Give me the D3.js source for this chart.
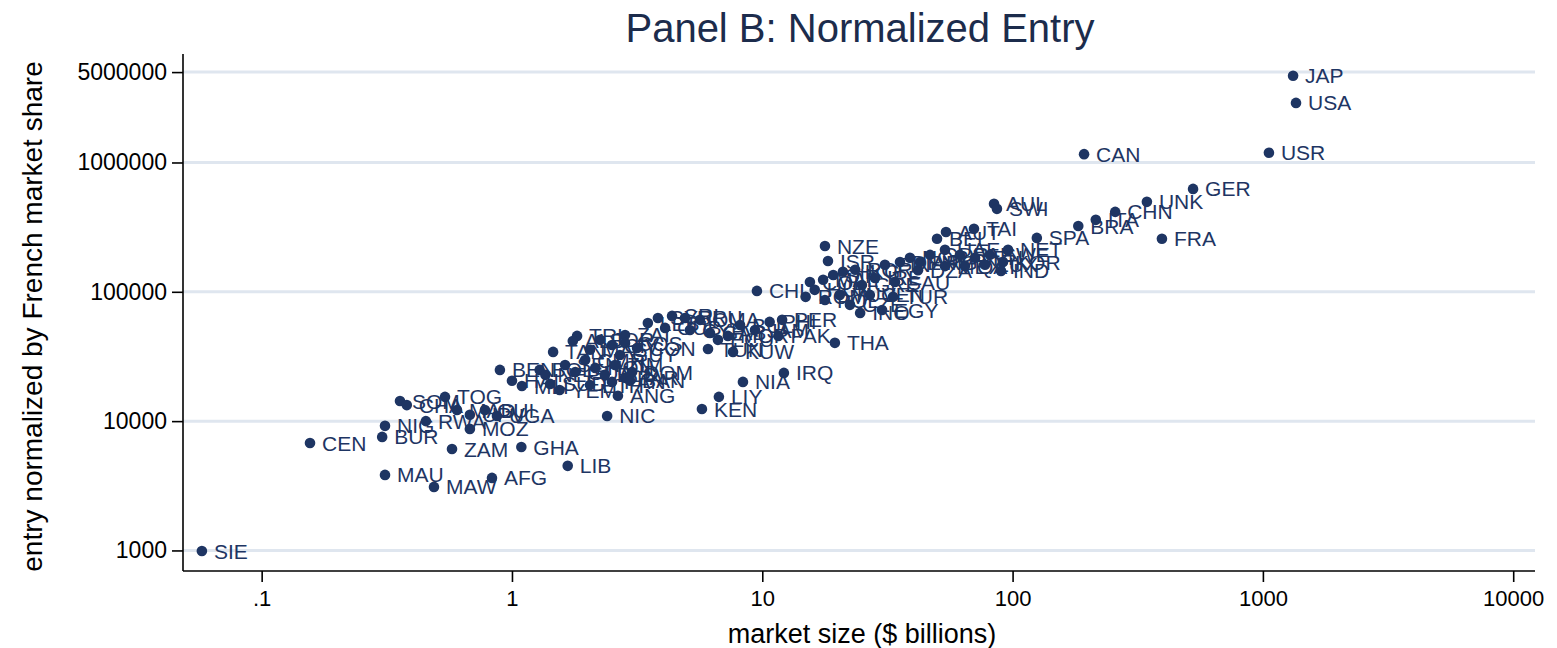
<!DOCTYPE html>
<html>
<head>
<meta charset="utf-8">
<script src="https://cdn.jsdelivr.net/npm/d3@7"></script>
<style>
  html, body { margin: 0; padding: 0; background: #fff; }
  svg { display: block; }
</style>
</head>
<body>
<svg id="chart" width="1557" height="648"></svg>
<script>
// Country codes, market size ($ billions) and entry normalized by French market share
const codes = [
  "JAP","USA","USR","CAN","GER","UNK","CHN","ITA","BRA","SPA","FRA",
  "AUL","SWI","AUT","TAI","BEL","NET","SWE","KOR","IND","MEX","SAF","IRN",
  "GDR","UAE","QAT","LUX","DZA",
  "COL","MAL","SIN","HKG","POR","GRE","IRE","FIN","SAU","DEN","NOR","ARG",
  "HUN","ROM","POL","YUG","CZE","VEN","INO","EGY","TUR","NZE","ISR","CHL",
  "LEB","SYR","SRI","URU","OMA","ZAI","CUB","CYP","GAB","ECU","MOR","BUL",
  "JAM","PHI","PER","TUN","KUW","PAK","THA",
  "BEN","HAI","MLI","BOL","TAN","TRI","ALB","JOR","CIV","COS","CON","SEN",
  "GUA","CMR","HON","ELS","ZIM","PAR","DOM","BAN","PAN","SUD","YEM","ETH",
  "NEP","MAS","GUY",
  "NIC","ANG","KEN","LIY","NIA","IRQ",
  "SIE","CEN","MAU","MAW","AFG","LIB","ZAM","GHA","BUR","NIG","MOZ","RWA",
  "SOM","CHA","TOG","MAD","UGA","UPV","GUI"
];
const marketSize = [
  1320,1356,1057,193,526,344,257,215,183,125,395,
  84.3,86.6,54.2,70.1,49.9,95.9,81.2,91.6,89.9,53.7,61.6,70.8,
  46.8,53.7,64.5,77.6,41.9,
  15.5,17.5,19.2,21.0,23.5,25.0,28.2,30.9,33.9,35.5,38.9,42.7,
  16.2,14.9,17.8,20.4,22.4,26.9,24.6,30.1,33.3,17.8,18.3,9.52,
  3.49,3.83,4.36,4.91,5.64,2.83,4.09,5.14,6.18,6.65,7.29,8.15,
  9.35,10.7,12.0,6.07,7.64,11.6,19.5,
  0.895,1.0,1.096,1.29,1.46,1.82,1.75,2.25,2.51,2.83,3.16,1.63,
  1.79,1.96,2.15,2.35,2.58,2.83,3.02,2.96,2.51,1.42,1.55,2.05,
  1.36,2.05,2.70,
  2.40,2.65,5.74,6.71,8.37,12.2,
  0.0577,0.156,0.311,0.488,0.832,1.67,0.576,1.09,0.303,0.311,0.679,0.453,
  0.357,0.380,0.540,0.603,0.871,0.679,0.780
];
const entry = [
  4680000,2890000,1190000,1160000,625000,496000,415000,360000,323000,261000,257000,
  479000,438000,290000,307000,257000,211000,193000,170000,145000,158000,193000,183000,
  193000,211000,158000,162000,147000,
  119000,124000,135000,143000,148000,113000,128000,162000,119000,170000,183000,170000,
  103500,91400,86500,94600,79300,94600,68700,72400,91400,226000,173000,101600,
  57400,62800,65100,62800,60700,46400,52600,50700,48100,42500,45600,55400,
  50700,58500,60700,36100,34300,45600,40300,
  24900,20500,18700,24900,34300,45600,41700,42500,38800,40200,36800,27200,
  24000,29700,25800,22800,27200,21600,24000,20500,20100,19400,17400,19000,
  22800,35600,32500,
  10970,15700,12400,15400,20100,23600,
  990,6780,3840,3100,3640,4510,6090,6310,7550,9190,8710,10000,
  14300,13300,15400,12200,10970,11200,12200
];
const xTicks = [0.1, 1, 10, 100, 1000, 10000];
const xTickLabels = [".1", "1", "10", "100", "1000", "10000"];
const yTicks = [1000, 10000, 100000, 1000000, 5000000];
const yTickLabels = ["1000", "10000", "100000", "1000000", "5000000"];

const points = codes.map((c, i) => ({ code: c, x: marketSize[i], y: entry[i] }));

const svg = d3.select("#chart");
const font = "'Liberation Sans', Arial, Helvetica, sans-serif";
const navy = "#1e3563";

const plot = { left: 183, right: 1535, top: 54, bottom: 571 };

const x = d3.scaleLog().domain([0.0485, 12220]).range([plot.left, plot.right]);
const y = d3.scaleLog().domain([706, 6900000]).range([plot.bottom - 1, plot.top]);

// Horizontal grid lines at the y ticks
svg.append("g")
  .selectAll("line")
  .data(yTicks)
  .join("line")
  .attr("x1", plot.left)
  .attr("x2", plot.right)
  .attr("y1", d => y(d))
  .attr("y2", d => y(d))
  .attr("stroke", "#dfe6ef")
  .attr("stroke-width", 3);

// Axes
const xAxis = d3.axisBottom(x)
  .tickValues(xTicks)
  .tickFormat((d, i) => xTickLabels[i])
  .tickSize(11)
  .tickPadding(8)
  .tickSizeOuter(0);
const gx = svg.append("g")
  .attr("transform", `translate(0,${plot.bottom})`)
  .call(xAxis);
gx.select(".domain").attr("stroke", "#000").attr("stroke-width", 1.6)
  .attr("d", `M${plot.left},0H${plot.right}`);
gx.selectAll(".tick line").attr("stroke", "#000").attr("stroke-width", 1.6);
gx.selectAll(".tick text")
  .attr("font-family", font).attr("font-size", 22).attr("fill", "#000");

const yAxis = d3.axisLeft(y)
  .tickValues(yTicks)
  .tickFormat((d, i) => yTickLabels[i])
  .tickSize(11)
  .tickPadding(5)
  .tickSizeOuter(0);
const gy = svg.append("g")
  .attr("transform", `translate(${plot.left},0)`)
  .call(yAxis);
gy.select(".domain").attr("stroke", "#000").attr("stroke-width", 1.6)
  .attr("d", `M0,${plot.top}V${plot.bottom}`);
gy.selectAll(".tick line").attr("stroke", "#000").attr("stroke-width", 1.6);
gy.selectAll(".tick text")
  .attr("font-family", font).attr("font-size", 23).attr("fill", "#000");

// Markers and their country labels
const marks = svg.append("g");
marks.selectAll("circle")
  .data(points)
  .join("circle")
  .attr("cx", d => x(d.x))
  .attr("cy", d => y(d.y))
  .attr("r", 5.3)
  .attr("fill", navy);

marks.selectAll("text")
  .data(points)
  .join("text")
  .attr("x", d => x(d.x) + 12)
  .attr("y", d => y(d.y))
  .attr("dy", "0.36em")
  .attr("font-family", font)
  .attr("font-size", 21)
  .attr("fill", navy)
  .text(d => d.code);

// Titles
svg.append("text")
  .attr("x", 860).attr("y", 28).attr("dy", "0.36em")
  .attr("text-anchor", "middle")
  .attr("font-family", font).attr("font-size", 40)
  .attr("fill", "#1c2c4c")
  .text("Panel B: Normalized Entry");

svg.append("text")
  .attr("x", 862).attr("y", 633).attr("dy", "0.36em")
  .attr("text-anchor", "middle")
  .attr("font-family", font).attr("font-size", 27)
  .attr("fill", "#000")
  .text("market size ($ billions)");

svg.append("text")
  .attr("transform", `translate(32,${(plot.top + plot.bottom) / 2 + 4}) rotate(-90)`)
  .attr("dy", "0.36em")
  .attr("text-anchor", "middle")
  .attr("font-family", font).attr("font-size", 28)
  .attr("fill", "#000")
  .text("entry normalized by French market share");
</script>
</body>
</html>
